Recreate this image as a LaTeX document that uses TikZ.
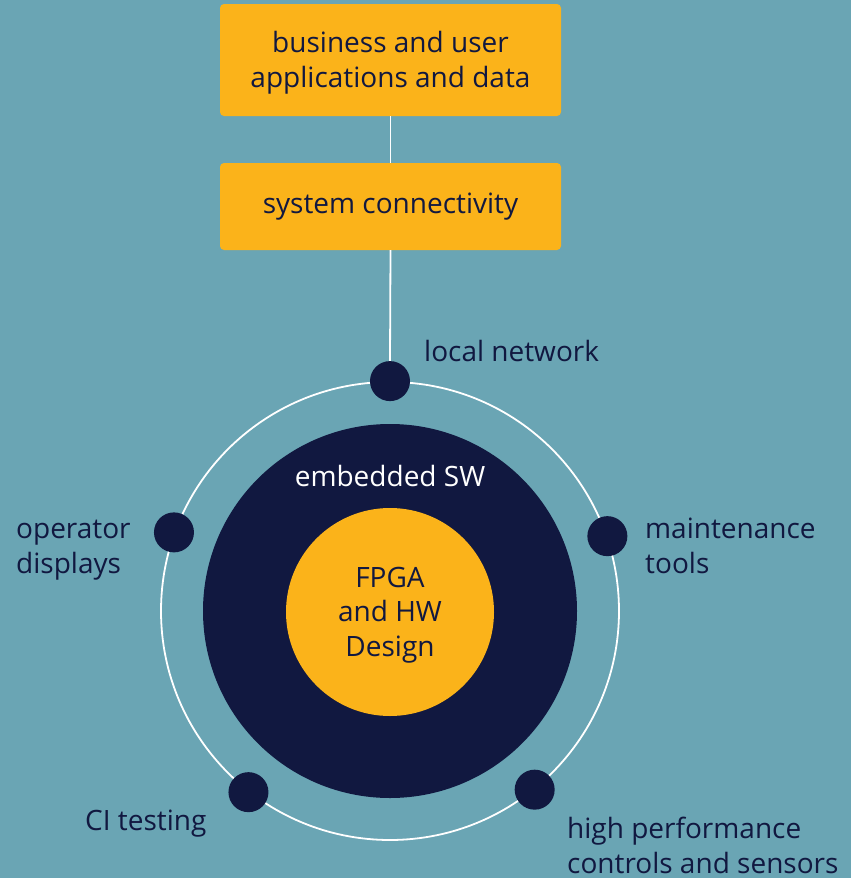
\documentclass[tikz,border=0pt]{standalone}
\usepackage{fontspec}
\setmainfont{Open Sans}
\definecolor{bg}{HTML}{6AA5B4}
\definecolor{gold}{HTML}{FBB31A}
\definecolor{navy}{HTML}{111840}
\begin{document}
\begin{tikzpicture}[x=1pt,y=-1pt,
  txt/.style={text=navy,font=\fontsize{28}{34.5}\selectfont,inner sep=0pt},
  box/.style={fill=gold,rounded corners=4pt,minimum width=341pt,inner sep=0pt},
  link/.style={draw=white,line width=1.8pt},
  dot/.style={circle,fill=navy,minimum size=40pt,inner sep=0pt},
  lbl/.style={txt,align=left},
  ctr/.style={txt,align=center}]
\fill[bg] (0,0) rectangle (851,878);
\useasboundingbox (0,0) rectangle (851,878);
\node[box,minimum height=112pt] (apps) at (390.5,60) {};
\node[ctr,anchor=base] (appst) at (390.5,87) {business and user\\applications and data};
\node[box,minimum height=87pt] (sys) at (390.5,206.5) {};
\node[ctr,anchor=base] (syst) at (390.5,213) {system connectivity};
\node[circle,draw=white,line width=1.8pt,minimum size=458pt,inner sep=0pt] (ring) at (390,611) {};
\node[circle,fill=navy,minimum size=374pt,inner sep=0pt] (emb) at (390,611) {};
\node[circle,fill=gold,minimum size=208pt,inner sep=0pt] (fpga) at (390,612) {};
\node[ctr,anchor=base] (fpgat) at (390,656) {FPGA\\and HW\\Design};
\node[txt,text=white,anchor=base] (embl) at (390,486) {embedded SW};
\node[dot] (dtop) at (ring.90) {};
\node[dot] (dleft) at (ring.160.5) {};
\node[dot] (dright) at (ring.19.7) {};
\node[dot] (dbl) at (ring.232) {};
\node[dot] (dbr) at (ring.309) {};
\draw[link] (apps.south) -- (sys.north);
\draw[link] (sys.south) -- (dtop.north);
\node[lbl,anchor=base west] (lnet) at (424,361) {local network};
\node[lbl,anchor=base west] (lop) at (16,573) {operator\\displays};
\node[lbl,anchor=base west] (lmt) at (645,573) {maintenance\\tools};
\node[lbl,anchor=base west] (lci) at (85,830) {CI testing};
\node[lbl,anchor=base west] (lhp) at (567,873) {high performance\\controls and sensors};
\end{tikzpicture}
\end{document}
